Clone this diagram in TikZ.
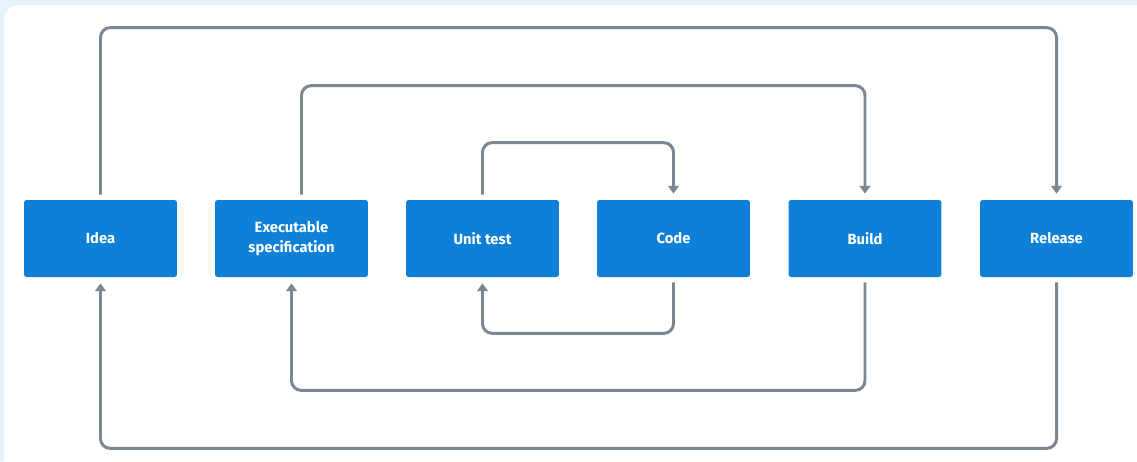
\documentclass[tikz,border=0pt]{standalone}
\usepackage{fontspec}
\setmainfont{Fira Sans}
\usepackage{xcolor}
\usetikzlibrary{arrows.meta, positioning, calc}
\definecolor{boxblue}{HTML}{0E80D8}
\definecolor{linegray}{HTML}{7B8794}
\definecolor{paneblue}{HTML}{E6F3FD}
\tikzset{
  stage/.style={rectangle, fill=boxblue, rounded corners=1.5pt, minimum width=3.06cm, minimum height=1.54cm, inner sep=0pt, text=white, align=center, font=\fontsize{8.4}{11}\selectfont\bfseries},
  conn/.style={draw=linegray, line width=1.7pt, rounded corners=5.5pt, -{Triangle[width=6pt,length=4.4pt]}}
}

\begin{document}
\begin{tikzpicture}[x=0.02cm, y=-0.02cm]
        % page and panel
        \useasboundingbox (0,0) rectangle (1137,461);
        \fill[paneblue] (0,0) rectangle (1137,461);
        \fill[white, rounded corners=8.5pt] (4,5) rectangle (1170,490);

        % the six stages
        \node[stage] (idea) at (100.5,238.5) {Idea};
        \node[stage] (spec) at (291.5,238.5) {Executable\\specification};
        \node[stage] (unit) at (482.5,238.5) {Unit test};
        \node[stage] (code) at (673.5,238.5) {Code};
        \node[stage] (build) at (865,238.5) {Build};
        \node[stage] (release) at (1056.5,238.5) {Release};

        % loops above
        \draw[conn] ($(idea.north)+(0,-5)$) -- ($(idea.north)+(0,-172)$) -| ($(release.north)+(0,-6)$);
        \draw[conn] ($(spec.north)+(10,-5)$) -- ($(spec.north)+(10,-114)$) -| ($(build.north)+(0,-6)$);
        \draw[conn] ($(unit.north)+(0,-5)$) -- ($(unit.north)+(0,-57)$) -| ($(code.north)+(0,-6)$);

        % loops below
        \draw[conn] ($(code.south)+(0,5)$) -- ($(code.south)+(0,56)$) -| ($(unit.south)+(0,6)$);
        \draw[conn] ($(build.south)+(0,5)$) -- ($(build.south)+(0,113)$) -| ($(spec.south)+(0,6)$);
        \draw[conn] ($(release.south)+(0,5)$) -- ($(release.south)+(0,171)$) -| ($(idea.south)+(0,6)$);
\end{tikzpicture}
\end{document}
